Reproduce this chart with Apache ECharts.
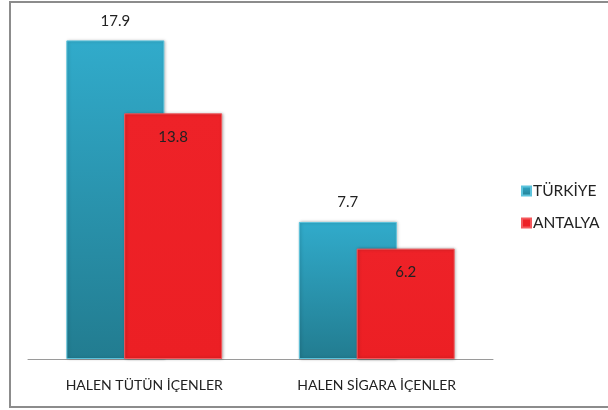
<!DOCTYPE html>
<html>
<head>
<meta charset="utf-8">
<script src="https://cdn.jsdelivr.net/npm/echarts@6/dist/echarts.min.js"></script>
<style>
  html, body { margin: 0; padding: 0; background: #fff; }
  #main { width: 608px; height: 410px; }
</style>
</head>
<body>
<div id="main"></div>
<script>
const categories = ['HALEN TÜTÜN İÇENLER', 'HALEN SİGARA İÇENLER'];
const turkiye = [17.9, 7.7];
const antalya = [13.8, 6.2];
const seriesNames = ['TÜRKİYE', 'ANTALYA'];

const FONT = 'Lato';

const chart = echarts.init(document.getElementById('main'));

const tealGrad = new echarts.graphic.LinearGradient(0, 0, 0, 1, [
  {offset: 0, color: '#31abcb'},
  {offset: 1, color: '#227c90'}
]);
const redGrad = new echarts.graphic.LinearGradient(0, 0, 0, 1, [
  {offset: 0, color: '#ee2228'},
  {offset: 1, color: '#ec1f24'}
]);

const option = {
  animation: false,
  textStyle: {fontFamily: FONT},
  graphic: [{
    type: 'rect',
    shape: {x: 10, y: 2, width: 620, height: 405},
    style: {fill: 'none', stroke: '#8c8c8c', lineWidth: 2},
    silent: true,
    z: 0
  }],
  legend: {
    orient: 'vertical',
    left: 516,
    top: 178,
    itemWidth: 9,
    itemHeight: 9,
    itemGap: 16,
    icon: 'rect',
    textStyle: {fontFamily: FONT, fontSize: 15.5, color: '#222', padding: [0, 0, 0, -3]},
    data: seriesNames
  },
  grid: {left: 28, right: 115, top: 3, bottom: 51},
  xAxis: {
    type: 'category',
    data: categories,
    axisLine: {lineStyle: {color: '#9a9a9a', width: 1}},
    axisTick: {show: false},
    axisLabel: {fontFamily: FONT, fontSize: 14, color: '#222', margin: 19}
  },
  yAxis: {
    type: 'value',
    min: 0,
    max: 20,
    show: false,
    splitLine: {show: false}
  },
  series: [
    {
      name: seriesNames[0],
      type: 'bar',
      data: turkiye,
      barWidth: 98,
      barGap: '-41%',
      itemStyle: {
        color: tealGrad,
        borderColor: '#5cc3dc',
        borderWidth: 1,
        shadowColor: 'rgba(0,0,0,0.25)',
        shadowBlur: 3,
        shadowOffsetX: 1
      },
      label: {
        show: true,
        position: 'top',
        distance: 12,
        fontFamily: FONT,
        fontSize: 15,
        color: '#222'
      }
    },
    {
      name: seriesNames[1],
      type: 'bar',
      data: antalya,
      barWidth: 98,
      itemStyle: {
        color: redGrad,
        borderColor: '#f4585c',
        borderWidth: 1,
        shadowColor: 'rgba(0,0,0,0.3)',
        shadowBlur: 3,
        shadowOffsetX: 1
      },
      label: {
        show: true,
        position: 'insideTop',
        distance: 16,
        fontFamily: FONT,
        fontSize: 15,
        color: '#222'
      }
    }
  ]
};

chart.setOption(option);
</script>
</body>
</html>
